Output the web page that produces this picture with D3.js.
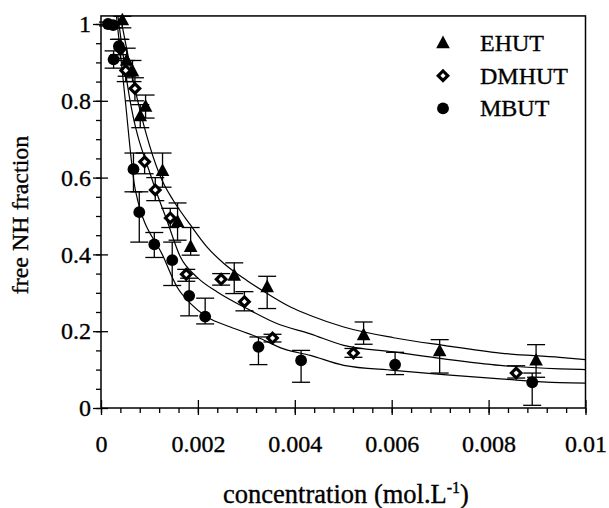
<!DOCTYPE html>
<html>
<head>
<meta charset="utf-8">
<script src="https://cdn.jsdelivr.net/npm/d3@7"></script>
<style>
  body { margin: 0; background: #fff; }
  text { font-family: "Liberation Serif", "Times New Roman", serif; fill: #000; stroke: #000; stroke-width: 0.35px; }
</style>
</head>
<body>
<div id="chart"></div>
<script>
// EHUT (triangles)
const ehutX  = [0.00044, 0.00053, 0.00065, 0.00081, 0.00092, 0.00127, 0.00158, 0.00185, 0.00275, 0.00343, 0.00542, 0.00699, 0.00898];
const ehutY  = [1.01, 0.905, 0.877, 0.76, 0.785, 0.618, 0.485, 0.42, 0.345, 0.315, 0.19, 0.148, 0.124];
const ehutHi = [1.02, 0.937, 0.905, 0.79, 0.815, 0.664, 0.534, 0.47, 0.378, 0.343, 0.224, 0.178, 0.165];
const ehutLo = [0.99, 0.864, 0.85, 0.73, 0.755, 0.575, 0.437, 0.398, 0.298, 0.259, 0.166, 0.091, 0.08];

// DMHUT (open diamonds)
const dmhutX  = [0.00040, 0.00051, 0.00070, 0.00090, 0.00112, 0.00143, 0.00176, 0.00248, 0.00296, 0.00354, 0.00521, 0.00857];
const dmhutY  = [0.935, 0.879, 0.832, 0.641, 0.568, 0.495, 0.348, 0.335, 0.277, 0.182, 0.143, 0.091];
const dmhutHi = [0.96, 0.905, 0.86, 0.664, 0.6, 0.52, 0.361, 0.35, 0.303, 0.192, 0.155, 0.11];
const dmhutLo = [0.91, 0.85, 0.80, 0.61, 0.54, 0.47, 0.33, 0.32, 0.253, 0.172, 0.132, 0.078];

// MBUT (filled circles)
const mbutX  = [0.000145, 0.00025, 0.00026, 0.00037, 0.00067, 0.00079, 0.0011, 0.00147, 0.00182, 0.00215, 0.00325, 0.00413, 0.00607, 0.0089];
const mbutY  = [1.0, 0.997, 0.908, 0.942, 0.622, 0.51, 0.426, 0.385, 0.292, 0.238, 0.159, 0.124, 0.113, 0.067];
const mbutHi = [1.005, 1.005, 0.93, 0.96, 0.664, 0.563, 0.457, 0.432, 0.338, 0.286, 0.185, 0.15, 0.145, 0.091];
const mbutLo = [0.995, 0.99, 0.885, 0.92, 0.563, 0.432, 0.392, 0.319, 0.24, 0.219, 0.113, 0.067, 0.087, 0.007];

// fitted curves
const fitEhutX = [0.00040, 0.00073, 0.00126, 0.00149, 0.00185, 0.00219, 0.00253, 0.00301, 0.00343, 0.00391, 0.00432, 0.00501, 0.00604, 0.00707, 0.00824, 0.00947, 0.01];
const fitEhutY = [1.02, 0.815, 0.593, 0.541, 0.476, 0.419, 0.377, 0.332, 0.298, 0.263, 0.241, 0.211, 0.183, 0.163, 0.143, 0.132, 0.126];
const fitDmhutX = [0.00035, 0.00058, 0.00106, 0.00136, 0.00164, 0.00198, 0.0024, 0.00301, 0.00363, 0.00432, 0.00501, 0.00604, 0.00707, 0.00824, 0.00947, 0.01];
const fitDmhutY = [1.02, 0.815, 0.593, 0.489, 0.393, 0.341, 0.302, 0.259, 0.22, 0.193, 0.163, 0.146, 0.128, 0.111, 0.102, 0.1];
const fitMbutX = [0.00032, 0.00049, 0.00071, 0.00129, 0.00157, 0.00185, 0.00219, 0.00267, 0.00322, 0.00377, 0.00432, 0.00501, 0.00604, 0.00707, 0.00824, 0.00947, 0.01];
const fitMbutY = [1.02, 0.815, 0.567, 0.393, 0.315, 0.272, 0.237, 0.211, 0.185, 0.154, 0.137, 0.111, 0.098, 0.087, 0.076, 0.066, 0.065];

// ticks
const xMajor = [0, 0.002, 0.004, 0.006, 0.008, 0.01];
const yMajor = [0, 0.2, 0.4, 0.6, 0.8, 1];
const legendNames = ['EHUT', 'DMHUT', 'MBUT'];

const width = 609, height = 508;
const yTop = 1.021;

const x = d3.scaleLinear().domain([0, 0.01]).range([101, 585.5]);
const y = d3.scaleLinear().domain([0, 1]).range([408, 24]);

const svg = d3.select('#chart').append('svg')
    .attr('width', width)
    .attr('height', height);

const zip = (xs, ys, extra) => xs.map((v, i) => Object.assign({ x: v, y: ys[i] }, extra ? extra(i) : {}));

const series = [
    { name: 'EHUT',  shape: 'triangle', pts: zip(ehutX, ehutY, i => ({ lo: ehutLo[i], hi: ehutHi[i] })), fit: zip(fitEhutX, fitEhutY) },
    { name: 'DMHUT', shape: 'diamond',  pts: zip(dmhutX, dmhutY, i => ({ lo: dmhutLo[i], hi: dmhutHi[i] })), fit: zip(fitDmhutX, fitDmhutY) },
    { name: 'MBUT',  shape: 'circle',   pts: zip(mbutX, mbutY, i => ({ lo: mbutLo[i], hi: mbutHi[i] })), fit: zip(fitMbutX, fitMbutY) }
];

// clip for the curves
svg.append('clipPath').attr('id', 'plot-clip')
  .append('rect')
    .attr('x', x(0)).attr('y', y(yTop))
    .attr('width', x(0.01) - x(0)).attr('height', y(0) - y(yTop));

// fit curves
const line = d3.line().x(d => x(d.x)).y(d => y(d.y)).curve(d3.curveMonotoneX);
svg.append('g')
    .attr('clip-path', 'url(#plot-clip)')
  .selectAll('path')
  .data(series)
  .join('path')
    .attr('d', d => line(d.fit))
    .attr('fill', 'none')
    .attr('stroke', '#000')
    .attr('stroke-width', 1.2);

// error bars
const capW = 9;
series.forEach(s => {
    const g = svg.append('g').attr('stroke', '#000').attr('stroke-width', 1.3);
    g.selectAll('line.v').data(s.pts).join('line').attr('class', 'v')
        .attr('x1', d => x(d.x)).attr('x2', d => x(d.x))
        .attr('y1', d => y(d.lo)).attr('y2', d => y(d.hi));
    g.selectAll('line.hi').data(s.pts).join('line').attr('class', 'hi')
        .attr('x1', d => x(d.x) - capW).attr('x2', d => x(d.x) + capW)
        .attr('y1', d => y(d.hi)).attr('y2', d => y(d.hi));
    g.selectAll('line.lo').data(s.pts).join('line').attr('class', 'lo')
        .attr('x1', d => x(d.x) - capW).attr('x2', d => x(d.x) + capW)
        .attr('y1', d => y(d.lo)).attr('y2', d => y(d.lo));
});

// marker drawing
function drawMarker(sel, shape) {
    if (shape === 'triangle') {
        sel.append('path').attr('d', 'M0,-7.5L6.8,5.2L-6.8,5.2Z').attr('fill', '#000');
    } else if (shape === 'diamond') {
        sel.append('path').attr('d', 'M0,-7L7,0L0,7L-7,0Z').attr('fill', '#000');
        sel.append('path').attr('d', 'M0,-2.6L2.6,0L0,2.6L-2.6,0Z').attr('fill', '#fff');
    } else {
        sel.append('circle').attr('r', 5.9).attr('fill', '#000');
    }
}

series.forEach(s => {
    svg.append('g').selectAll('g')
        .data(s.pts)
        .join('g')
        .attr('transform', d => `translate(${x(d.x)},${y(d.y)})`)
        .each(function () { drawMarker(d3.select(this), s.shape); });
});

// axes
const fontSize = 24;
const xMinor = d3.range(0, 0.01 + 1e-9, 0.0004);
const yMinor = d3.range(0, 1 + 1e-9, 0.05);

const fmt = d => String(+d.toFixed(4));

svg.append('g').attr('transform', `translate(0,${y(0)})`)
    .call(d3.axisBottom(x).tickValues(xMinor).tickSize(5).tickFormat(''))
    .call(g => g.select('.domain').remove());
svg.append('g').attr('transform', `translate(0,${y(0)})`)
    .call(d3.axisTop(x).tickValues(xMajor).tickSize(8).tickFormat(''))
    .call(g => g.select('.domain').remove());
svg.append('g').attr('transform', `translate(0,${y(0)})`)
    .call(d3.axisBottom(x).tickValues(xMajor).tickSize(7).tickPadding(20).tickFormat(fmt))
    .call(g => g.select('.domain').remove())
    .call(g => g.selectAll('text').style('font-size', fontSize + 'px').attr('font-family', null));

svg.append('g').attr('transform', `translate(${x(0)},0)`)
    .call(d3.axisLeft(y).tickValues(yMinor).tickSize(5).tickFormat(''))
    .call(g => g.select('.domain').remove());
svg.append('g').attr('transform', `translate(${x(0)},0)`)
    .call(d3.axisRight(y).tickValues(yMajor).tickSize(7).tickFormat(''))
    .call(g => g.select('.domain').remove());
svg.append('g').attr('transform', `translate(${x(0)},0)`)
    .call(d3.axisLeft(y).tickValues(yMajor).tickSize(8).tickPadding(2).tickFormat(fmt))
    .call(g => g.select('.domain').remove())
    .call(g => g.selectAll('text').style('font-size', fontSize + 'px').attr('font-family', null));

svg.selectAll('.tick line').attr('stroke', '#000').attr('stroke-width', 1.3);

// frame
svg.append('rect')
    .attr('x', x(0)).attr('y', y(yTop))
    .attr('width', x(0.01) - x(0)).attr('height', y(0) - y(yTop))
    .attr('fill', 'none').attr('stroke', '#000').attr('stroke-width', 1.5);

// axis titles
const xTitle = svg.append('text')
    .attr('x', 346)
    .attr('y', 503)
    .attr('text-anchor', 'middle')
    .style('font-size', '26.5px');
xTitle.append('tspan').text('concentration (mol.L');
xTitle.append('tspan').attr('dy', -10).style('font-size', '16px').text('-1');
xTitle.append('tspan').attr('dy', 10).text(')');

svg.append('text')
    .attr('transform', 'translate(28,215) rotate(-90)')
    .attr('text-anchor', 'middle')
    .style('font-size', fontSize + 'px')
    .text('free NH fraction');

// legend
const legend = svg.append('g').selectAll('g')
    .data(series)
    .join('g')
    .attr('transform', (d, i) => `translate(443,${43 + i * 32.7})`);
legend.each(function (d) { drawMarker(d3.select(this), d.shape); });
legend.append('text')
    .attr('x', 37)
    .attr('dy', '0.33em')
    .style('font-size', fontSize + 'px')
    .text((d, i) => legendNames[i]);
</script>
</body>
</html>
